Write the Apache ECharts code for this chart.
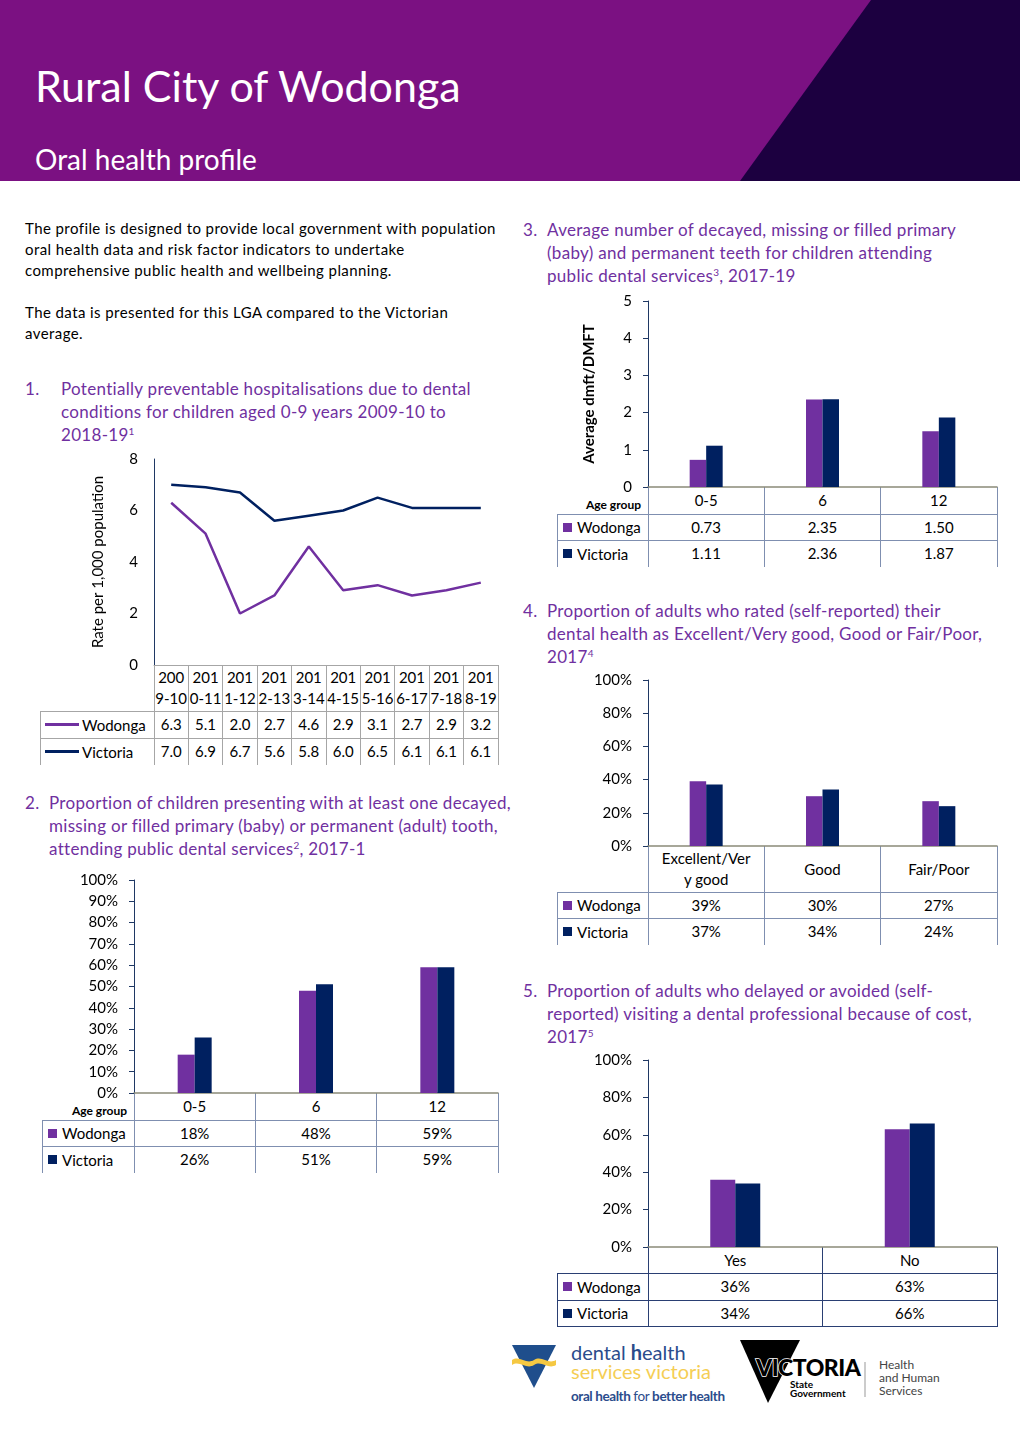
<!DOCTYPE html>
<html><head><meta charset="utf-8">
<script src="https://cdn.jsdelivr.net/npm/echarts@6/dist/echarts.min.js"></script>
<style>
html,body{margin:0;padding:0;background:#fff;}
body{width:1020px;height:1442px;position:relative;overflow:hidden;font-family:Lato,'Noto Sans',sans-serif;color:#000;}
#chart{position:absolute;left:0;top:0;width:1020px;height:1442px;z-index:2;pointer-events:none;}
.t{position:absolute;white-space:nowrap;}
.sec{position:absolute;color:#7030A0;font-size:17px;line-height:23px;white-space:nowrap;letter-spacing:0.3px;}
.body{position:absolute;font-size:15px;line-height:21px;white-space:nowrap;color:#000;letter-spacing:0.42px;}
sup{font-size:10px;line-height:0;vertical-align:6px;}
.cell{position:absolute;display:flex;align-items:center;justify-content:center;text-align:center;font-size:15px;line-height:21px;color:#000;}
.leg{position:absolute;display:flex;align-items:center;font-size:15px;color:#000;white-space:nowrap;}
.ln{position:absolute;}
</style>
</head>
<body>
<div id="hdr" style="position:absolute;left:0;top:0;width:1020px;height:181px;background:#7B1182;"></div>
<svg style="position:absolute;left:0;top:0" width="1020" height="181"><polygon points="871,0 1020,0 1020,181 740,181" fill="#1C0040"/></svg>
<div class="t" style="left:35px;top:58px;font-size:43px;line-height:56px;color:#fff;font-weight:400;">Rural City of Wodonga</div>
<div class="t" style="left:35px;top:141px;font-size:28px;line-height:36px;color:#fff;font-weight:400;">Oral health profile</div>

<div class="body" style="left:25px;top:217.5px;">The profile is designed to provide local government with population<br>oral health data and risk factor indicators to undertake<br>comprehensive public health and wellbeing planning.<br><br>The data is presented for this LGA compared to the Victorian<br>average.</div>

<div class="sec" style="left:25px;top:376.5px;">1.</div>
<div class="sec" style="left:61px;top:376.5px;">Potentially preventable hospitalisations due to dental<br>conditions for children aged 0-9 years 2009-10 to<br>2018-19<sup>1</sup></div>

<div class="sec" style="left:25px;top:790.5px;">2.</div>
<div class="sec" style="left:49px;top:790.5px;">Proportion of children presenting with at least one decayed,<br>missing or filled primary (baby) or permanent (adult) tooth,<br>attending public dental services<sup>2</sup>, 2017-1</div>

<div class="sec" style="left:523px;top:217.5px;">3.</div>
<div class="sec" style="left:547px;top:217.5px;">Average number of decayed, missing or filled primary<br>(baby) and permanent teeth for children attending<br>public dental services<sup>3</sup>, 2017-19</div>

<div class="sec" style="left:523px;top:598.5px;">4.</div>
<div class="sec" style="left:547px;top:598.5px;">Proportion of adults who rated (self-reported) their<br>dental health as Excellent/Very good, Good or Fair/Poor,<br>2017<sup>4</sup></div>

<div class="sec" style="left:523px;top:978.5px;">5.</div>
<div class="sec" style="left:547px;top:978.5px;">Proportion of adults who delayed or avoided (self-<br>reported) visiting a dental professional because of cost,<br>2017<sup>5</sup></div>

<div id="tables"></div>

<!-- logos -->
<svg style="position:absolute;left:500px;top:1330px" width="480" height="100">
  <polygon points="12,15 56,15 34,58" fill="#1F4E8C"/>
  <path d="M12,30 C20,25 26,35 34,30 C42,25 48,35 56,30 L56,35 C48,40 42,30 34,35 C26,40 20,30 12,35 Z" fill="#F5C842"/>
  <text x="71" y="30" font-family="Lato,sans-serif" font-size="20" fill="#2B4C8C">dental <tspan font-weight="bold">h</tspan>ealth</text>
  <text x="71" y="49" font-family="Lato,sans-serif" font-size="20" fill="#F5CE55">services victoria</text>
  <text x="71" y="71" font-family="Lato,sans-serif" font-size="13.5" font-weight="bold" fill="#2B4C8C" letter-spacing="-0.4">oral health <tspan font-weight="normal">for</tspan> better health</text>
  <polygon points="240,10 300,10 268,73" fill="#000"/>
  <text x="256" y="46" font-family="Lato,sans-serif" font-size="23" font-weight="900" fill="#000" stroke="#fff" stroke-width="1.5" paint-order="stroke" letter-spacing="-0.5">VICTORIA</text>
  <text x="290" y="58" font-family="Lato,sans-serif" font-size="10" font-weight="bold" fill="#000">State</text>
  <text x="290" y="67" font-family="Lato,sans-serif" font-size="10" font-weight="bold" fill="#000">Government</text>
  <line x1="365" y1="32" x2="365" y2="67" stroke="#999" stroke-width="1"/>
  <text x="379" y="39" font-family="Lato,sans-serif" font-size="12" fill="#444">Health</text>
  <text x="379" y="52" font-family="Lato,sans-serif" font-size="12" fill="#444">and Human</text>
  <text x="379" y="65" font-family="Lato,sans-serif" font-size="12" fill="#444">Services</text>
</svg>

<div id="chart"></div>
<script>
// ---------------- data ----------------
const seriesNames = ['Wodonga', 'Victoria'];
const cats1 = ['2009-10','2010-11','2011-12','2012-13','2013-14','2014-15','2015-16','2016-17','2017-18','2018-19'];
const wod1 = [6.3, 5.1, 2.0, 2.7, 4.6, 2.9, 3.1, 2.7, 2.9, 3.2];
const vic1 = [7.0, 6.9, 6.7, 5.6, 5.8, 6.0, 6.5, 6.1, 6.1, 6.1];

const cats2 = ['0-5', '6', '12'];
const wod2 = [18, 48, 59];
const vic2 = [26, 51, 59];

const cats3 = ['0-5', '6', '12'];
const wod3 = [0.73, 2.35, 1.50];
const vic3 = [1.11, 2.36, 1.87];

const cats4 = ['Excellent/Very good', 'Good', 'Fair/Poor'];
const wod4 = [39, 30, 27];
const vic4 = [37, 34, 24];

const cats5 = ['Yes', 'No'];
const wod5 = [36, 63];
const vic5 = [34, 66];

const WOD = '#7030A0', VIC = '#002060';
const FONT = 'Lato, "Noto Sans", sans-serif';

// ---------------- tables (HTML) ----------------
const T = document.getElementById('tables');
function add(cls, style, html) {
  const d = document.createElement('div'); d.className = cls;
  Object.assign(d.style, style); if (html !== undefined) d.innerHTML = html; T.appendChild(d); return d;
}
function hl(x1, x2, y, c) { add('ln', {left: x1 + 'px', top: (y - 0.5) + 'px', width: (x2 - x1 + 1) + 'px', height: '1px', background: c}); }
function vl(x, y1, y2, c) { add('ln', {left: (x - 0.5) + 'px', top: y1 + 'px', width: '1px', height: (y2 - y1) + 'px', background: c}); }

function table(o) {
  const n = o.cats.length;
  const x0 = o.left, x1 = o.right, w = (x1 - x0) / n;
  const y0 = o.top, yR1 = y0 + o.headerH, yR2 = yR1 + o.rowH, yR3 = yR2 + o.rowH;
  o.cats.forEach((c, i) => {
    add('cell', {left: (x0 + i * w) + 'px', top: y0 + 'px', width: w + 'px', height: o.headerH + 'px'}, o.catFmt ? o.catFmt(c) : c);
  });
  if (o.age) add('leg', {left: (o.legLeft) + 'px', top: (y0 + 4) + 'px', width: (x0 - o.legLeft - 7) + 'px', height: o.headerH + 'px', justifyContent: 'flex-end', fontSize: '12px', fontWeight: 'bold'}, 'Age group');
  const rows = [[seriesNames[0], o.wod, WOD, yR1], [seriesNames[1], o.vic, VIC, yR2]];
  rows.forEach(([name, vals, col, y]) => {
    const key = o.lineKey
      ? `<span style="display:inline-block;width:34px;height:2.5px;background:${col};margin-right:3px;margin-left:5px"></span>`
      : `<span style="display:inline-block;width:9px;height:9px;background:${col};margin-right:5px;margin-left:6px"></span>`;
    add('leg', {left: o.legLeft + 'px', top: y + 'px', width: (x0 - o.legLeft) + 'px', height: o.rowH + 'px'}, key + name);
    vals.forEach((v, i) => {
      add('cell', {left: (x0 + i * w) + 'px', top: y + 'px', width: w + 'px', height: o.rowH + 'px'}, o.fmt(v));
    });
  });
  hl(o.legLeft, x1, yR1, o.color);
  hl(o.legLeft, x1, yR2, o.color);
  if (o.bottom) hl(o.legLeft, x1, yR3, o.color);
  vl(o.legLeft, yR1, yR3, o.color);
  for (let i = 0; i <= n; i++) vl(x0 + i * w, y0, yR3, o.color);
}

table({left: 154, right: 498, legLeft: 40, top: 665, headerH: 46, rowH: 27, cats: cats1, wod: wod1, vic: vic1,
  fmt: v => v.toFixed(1), color: '#A6A6A6', lineKey: true, catFmt: c => c.slice(0, 3) + '<br>' + c.slice(3)});
table({left: 134, right: 498, legLeft: 42, top: 1093, headerH: 27, rowH: 26.5, cats: cats2, wod: wod2, vic: vic2,
  fmt: v => v + '%', color: '#7F8FB0', age: true});
table({left: 648, right: 997, legLeft: 557, top: 487, headerH: 27, rowH: 26.5, cats: cats3, wod: wod3, vic: vic3,
  fmt: v => v.toFixed(2), color: '#7F8FB0', age: true});
table({left: 648, right: 997, legLeft: 557, top: 846, headerH: 46, rowH: 26.5, cats: cats4, wod: wod4, vic: vic4,
  fmt: v => v + '%', color: '#7F8FB0', catFmt: c => c.length > 13 ? c.slice(0, 13) + '<br>' + c.slice(13) : c});
table({left: 648, right: 997, legLeft: 557, top: 1247, headerH: 26.5, rowH: 26.5, cats: cats5, wod: wod5, vic: vic5,
  fmt: v => v + '%', color: '#2A3F73', bottom: true});

// ---------------- charts (ECharts) ----------------
const chart = echarts.init(document.getElementById('chart'), null, {renderer: 'canvas'});
const grids = [
  {left: 154, top: 459, width: 344, height: 206},
  {left: 134, top: 880, width: 364, height: 213},
  {left: 648, top: 301, width: 349, height: 186},
  {left: 648, top: 680, width: 349, height: 166},
  {left: 648, top: 1060, width: 349, height: 187}
];
const catsAll = [cats1, cats2, cats3, cats4, cats5];
function yAx(i, max, interval, pct, ticks, extra) {
  return Object.assign({
    gridIndex: i, type: 'value', min: 0, max: max, interval: interval,
    axisLine: {show: true, lineStyle: {color: '#1F3864', width: 1}},
    axisTick: {show: ticks, length: 5, lineStyle: {color: '#1F3864'}},
    splitLine: {show: false},
    axisLabel: {margin: 16, fontSize: 15, color: '#000', fontFamily: FONT, formatter: pct ? '{value}%' : '{value}'}
  }, extra || {});
}
const xAxes = catsAll.map((c, i) => ({
  gridIndex: i, type: 'category', data: c, boundaryGap: true,
  axisLine: {show: true, lineStyle: {color: i === 0 ? '#A6A6A6' : '#8A8A78', width: i === 0 ? 1 : 1.5}},
  axisTick: {show: false}, axisLabel: {show: false}, splitLine: {show: false}
}));
const yAxes = [
  yAx(0, 8, 2, false, false, {name: 'Rate per 1,000 population', nameLocation: 'middle', nameGap: 48, nameRotate: 90,
    nameTextStyle: {fontSize: 15, color: '#000', fontFamily: FONT}}),
  yAx(1, 100, 10, true, true),
  yAx(2, 5, 1, false, true, {name: 'Average dmft/DMFT', nameLocation: 'middle', nameGap: 51, nameRotate: 90,
    nameTextStyle: {fontSize: 15, color: '#000', fontWeight: 'bold', fontFamily: FONT}}),
  yAx(3, 100, 20, true, true),
  yAx(4, 100, 20, true, true)
];
function bars(i, wod, vic, bw) {
  return [
    {type: 'bar', name: seriesNames[0], xAxisIndex: i, yAxisIndex: i, data: wod, barWidth: bw, barGap: '0%',
      itemStyle: {color: WOD}},
    {type: 'bar', name: seriesNames[1], xAxisIndex: i, yAxisIndex: i, data: vic, barWidth: bw, barGap: '0%',
      itemStyle: {color: VIC}}
  ];
}
const series = [
  {type: 'line', name: seriesNames[0], xAxisIndex: 0, yAxisIndex: 0, data: wod1, showSymbol: false,
    lineStyle: {color: WOD, width: 2.5}, itemStyle: {color: WOD}},
  {type: 'line', name: seriesNames[1], xAxisIndex: 0, yAxisIndex: 0, data: vic1, showSymbol: false,
    lineStyle: {color: VIC, width: 2.5}, itemStyle: {color: VIC}},
  ...bars(1, wod2, vic2, 17),
  ...bars(2, wod3, vic3, 16.5),
  ...bars(3, wod4, vic4, 16.5),
  ...bars(4, wod5, vic5, 25)
];
chart.setOption({
  animation: false,
  textStyle: {fontFamily: FONT},
  grid: grids,
  xAxis: xAxes,
  yAxis: yAxes,
  series: series
});
</script>
</body></html>
